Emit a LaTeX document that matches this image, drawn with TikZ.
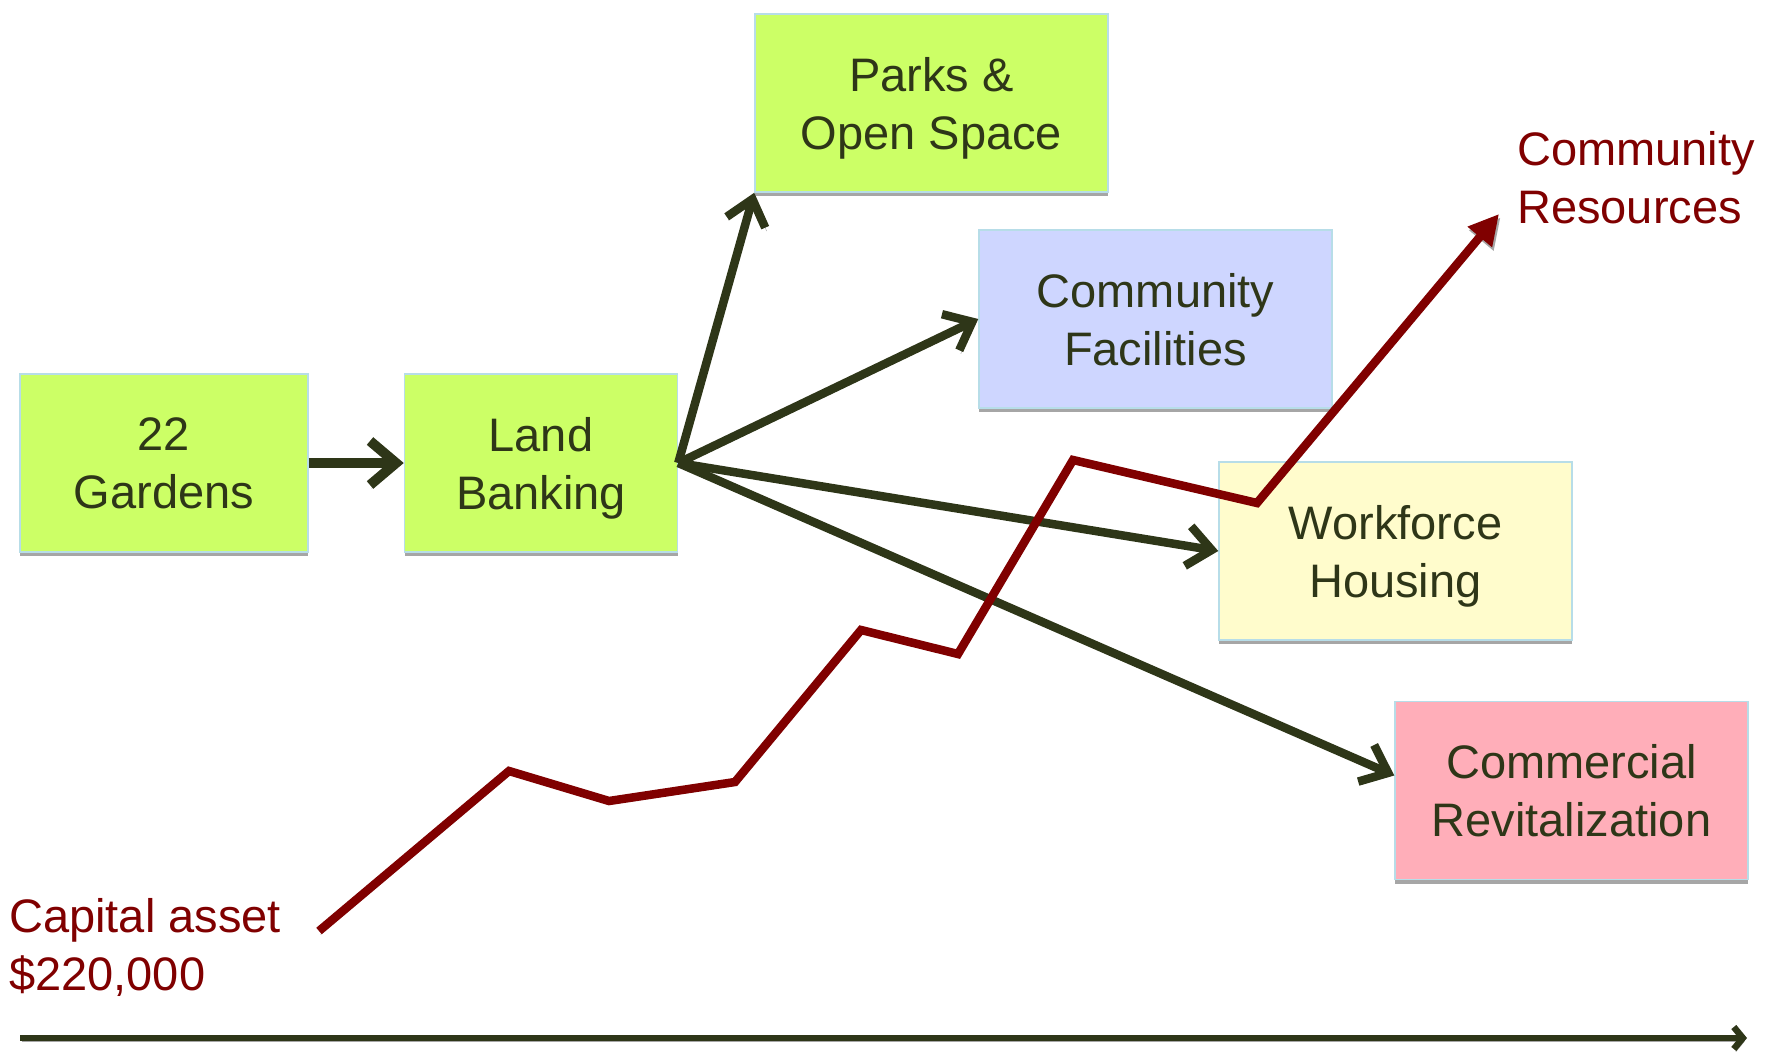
\documentclass[tikz,border=0pt]{standalone}
\usepackage{fontspec}
\setmainfont{Liberation Sans}
\usetikzlibrary{positioning}
\usetikzlibrary{arrows.meta,shadows}
\definecolor{olivetext}{RGB}{46,54,24}
\definecolor{darkred}{RGB}{128,0,0}
\definecolor{limebox}{RGB}{204,255,102}
\definecolor{bluebox}{RGB}{206,214,255}
\definecolor{yellowbox}{RGB}{255,252,204}
\definecolor{pinkbox}{RGB}{255,174,185}
\definecolor{boxedge}{RGB}{183,221,232}
\begin{document}
\begin{tikzpicture}[x=1pt,y=-1pt,
    base/.style={draw=boxedge,line width=1.5pt,minimum height=178pt,inner sep=0pt,align=center,text=olivetext,font=\fontsize{47}{58}\selectfont,text depth=0pt,drop shadow={shadow xshift=0pt,shadow yshift=-4pt,fill=black!35,opacity=1}},
    note/.style={text=darkred,align=left,inner sep=0pt,font=\fontsize{47}{58}\selectfont},
    linkshadow/.style={preaction={draw=black!35,transform canvas={xshift=1.5pt,yshift=-3.5pt}}},
    link/.style={draw=olivetext,line width=8.5pt,-{Straight Barb[length=24pt,width=40pt]},linkshadow},
    biglink/.style={link,line width=10pt,-{Straight Barb[length=26pt,width=44pt]}},
    growth/.style={draw=darkred,line width=8.5pt,miter limit=10,-{Triangle[length=30pt,width=30pt]},linkshadow},
    timeline/.style={draw=olivetext,line width=6.5pt,-{Straight Barb[length=9pt,width=22pt]},linkshadow}]
    \useasboundingbox (0,0) rectangle (1767,1052);
    %
    \node[base,fill=limebox,minimum width=288pt](gardens) at (164,463){22\\Gardens};
    \node[base,fill=limebox,minimum width=273pt,right=95pt of gardens](land){Land\\Banking};
    %
    \node[base,fill=limebox,minimum width=353pt](parks) at (931.5,103){Parks \&\\Open Space};
    \node[base,fill=bluebox,minimum width=353pt](facil) at (1155.5,319){Community\\Facilities};
    \node[base,fill=yellowbox,minimum width=353pt](housing) at (1395.5,551){Workforce\\Housing};
    \node[base,fill=pinkbox,minimum width=353pt](commerce) at (1571.5,790.5){Commercial\\Revitalization};
    %
    \draw[biglink] (gardens) -- (land);
    \draw[link] (land.east) -- (parks.south west);
    \draw[link] (land.east) -- (facil.west);
    \draw[link] (land.east) -- (housing.west);
    \draw[link] (land.east) -- ([yshift=15pt]commerce.west);
    %
    \node[note,anchor=west](capital) at (9,947){Capital asset\\\$220,000};
    \node[note,anchor=west](resources) at (1517,178){Community\\Resources};
    %
    \coordinate (gstart) at (319,931);
    \coordinate (gend) at (1499,214);
    \draw[growth] (gstart) -- (509,771) -- (609,801) -- (735,782) -- (861,630)
        -- (958,654) -- (1073,460) -- (1257,503) -- (gend);
    %
    \coordinate (tstart) at (20,1038);
    \coordinate (tend) at (1747,1038);
    \draw[timeline] (tstart) -- (tend);
\end{tikzpicture}
\end{document}
